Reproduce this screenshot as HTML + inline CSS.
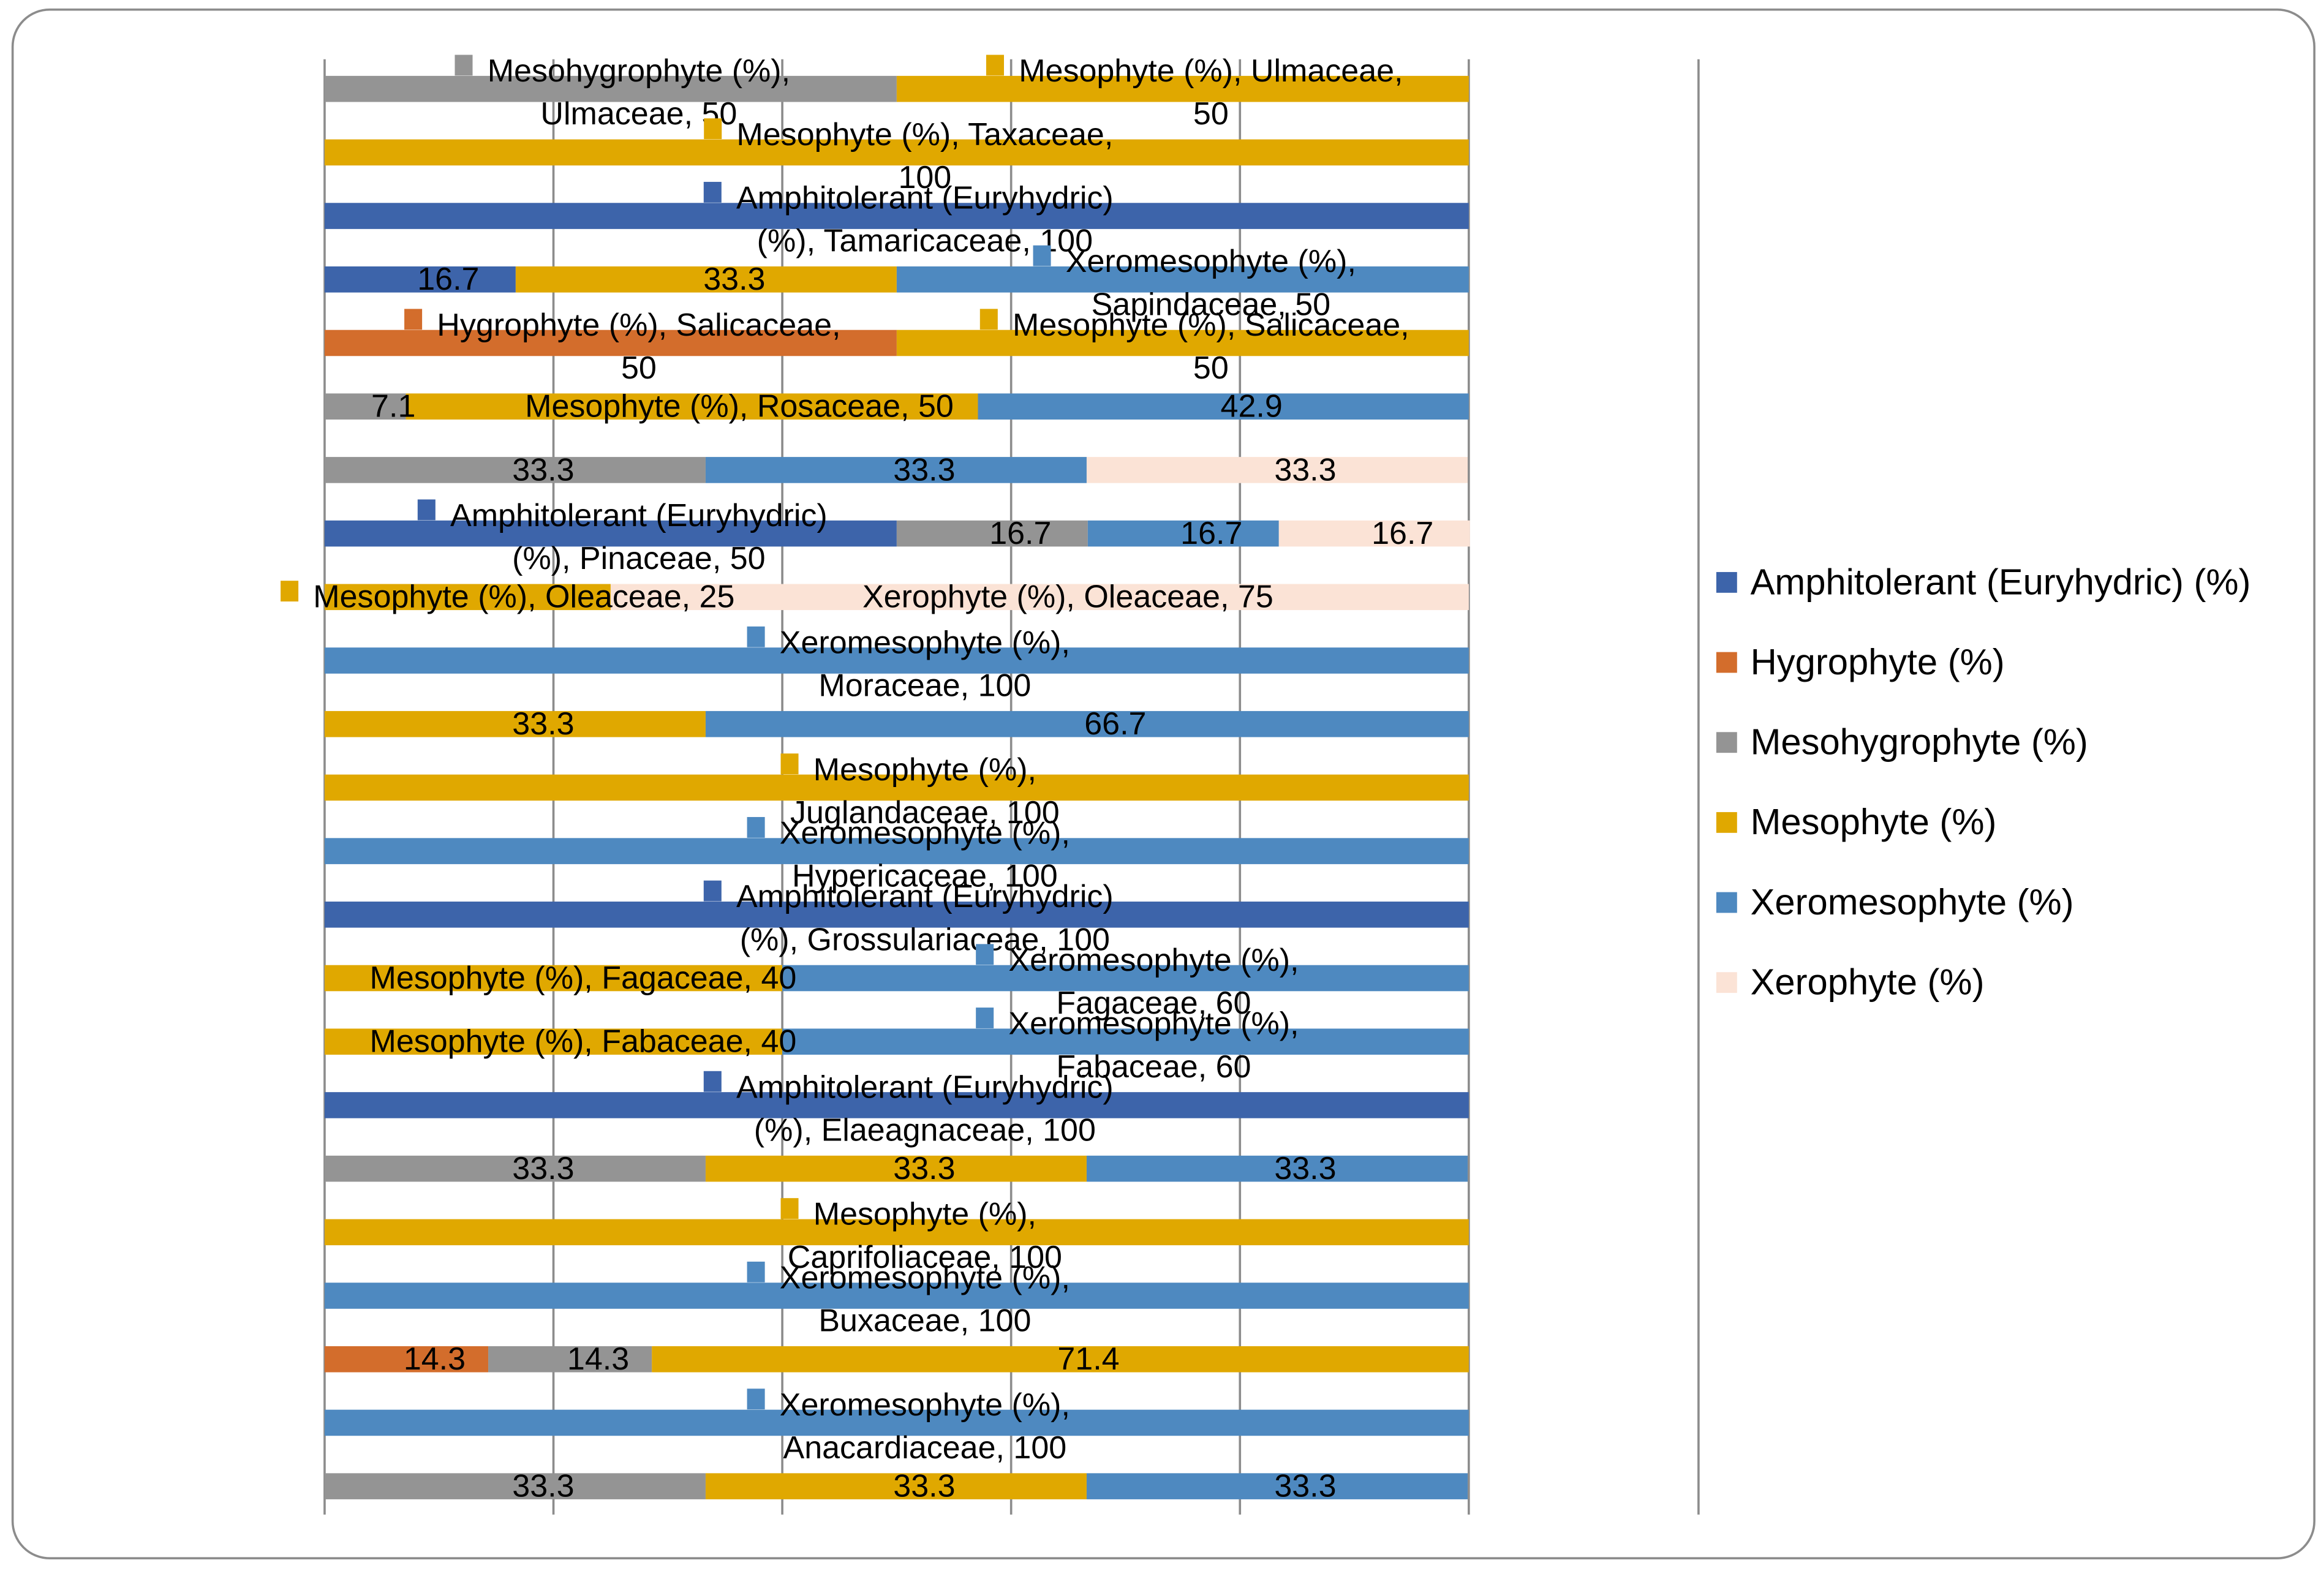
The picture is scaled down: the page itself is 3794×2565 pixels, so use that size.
<!DOCTYPE html>
<html><head><meta charset="utf-8"><style>
html,body{margin:0;padding:0;background:#fff}
svg{display:block}
text{font-family:"Liberation Sans",sans-serif;fill:#000}
</style></head><body>
<svg id="chart" width="3794" height="2565" viewBox="0 0 1568 1060.1" xmlns="http://www.w3.org/2000/svg">
<rect x="8.5" y="6.5" width="1553" height="1045" rx="25" fill="#fff" stroke="#8c8c8c" stroke-width="1.5"/>
<g id="grid"></g><g id="bars"></g><g id="labels"></g><g id="legend"></g>
</svg>
<script>
const categories=["Ulmaceae","Taxaceae","Tamaricaceae","Sapindaceae","Salicaceae","Rosaceae","Rhamnaceae","Pinaceae","Oleaceae","Moraceae","Malvaceae","Juglandaceae","Hypericaceae","Grossulariaceae","Fagaceae","Fabaceae","Elaeagnaceae","Cupressaceae","Caprifoliaceae","Buxaceae","Betulaceae","Anacardiaceae","Aceraceae"];
const seriesNames=["Amphitolerant (Euryhydric) (%)","Hygrophyte (%)","Mesohygrophyte (%)","Mesophyte (%)","Xeromesophyte (%)","Xerophyte (%)"];
const seriesColors=["#3d64aa","#d36d2c","#949494","#e0a800","#4e89c0","#fbe3d6"];
const amphi=[0,0,100,16.7,0,0,0,50,0,0,0,0,0,100,0,0,100,0,0,0,0,0,0];
const hygro=[0,0,0,0,50,0,0,0,0,0,0,0,0,0,0,0,0,0,0,0,14.3,0,0];
const mesohygro=[50,0,0,0,0,7.1,33.3,16.7,0,0,0,0,0,0,0,0,0,33.3,0,0,14.3,0,33.3];
const meso=[50,100,0,33.3,50,50,0,0,25,0,33.3,100,0,0,40,40,0,33.3,100,0,71.4,0,33.3];
const xeromeso=[0,0,0,50,0,42.9,33.3,16.7,0,100,66.7,0,100,0,60,60,0,33.3,0,100,0,100,33.3];
const xero=[0,0,0,0,0,0,33.3,16.7,75,0,0,0,0,0,0,0,0,0,0,0,0,0,0];
const xTicks=[0,20,40,60,80,100];
const callouts={
"2,0":[["Mesohygrophyte (%),","Ulmaceae, 50"],19,1],
"3,0":[["Mesophyte (%), Ulmaceae,","50"],19,1],
"3,1":[["Mesophyte (%), Taxaceae,","100"],19,1],
"0,2":[["Amphitolerant (Euryhydric)","(%), Tamaricaceae, 100"],19,1],
"4,3":[["Xeromesophyte (%),","Sapindaceae, 50"],19,1],
"1,4":[["Hygrophyte (%), Salicaceae,","50"],19,1],
"3,4":[["Mesophyte (%), Salicaceae,","50"],19,1],
"3,5":[["Mesophyte (%), Rosaceae, 50"],32,0],
"0,7":[["Amphitolerant (Euryhydric)","(%), Pinaceae, 50"],19,1],
"3,8":[["Mesophyte (%), Oleaceae, 25"],38,1],
"5,8":[["Xerophyte (%), Oleaceae, 75"],19,0],
"4,9":[["Xeromesophyte (%),","Moraceae, 100"],19,1],
"3,11":[["Mesophyte (%),","Juglandaceae, 100"],19,1],
"4,12":[["Xeromesophyte (%),","Hypericaceae, 100"],19,1],
"0,13":[["Amphitolerant (Euryhydric)","(%), Grossulariaceae, 100"],19,1],
"3,14":[["Mesophyte (%), Fagaceae, 40"],20,0],
"4,14":[["Xeromesophyte (%),","Fagaceae, 60"],19,1],
"3,15":[["Mesophyte (%), Fabaceae, 40"],20,0],
"4,15":[["Xeromesophyte (%),","Fabaceae, 60"],19,1],
"0,16":[["Amphitolerant (Euryhydric)","(%), Elaeagnaceae, 100"],19,1],
"3,18":[["Mesophyte (%),","Caprifoliaceae, 100"],19,1],
"4,19":[["Xeromesophyte (%),","Buxaceae, 100"],19,1],
"4,21":[["Xeromesophyte (%),","Anacardiaceae, 100"],19,1]
};
const series=[amphi,hygro,mesohygro,meso,xeromeso,xero];
const NS="http://www.w3.org/2000/svg";
const X0=219,X1=991,Y0=60,STEP=42.86,BH=17.6,FS=21.5;
const xs=v=>X0+v/100*(X1-X0);
const ys=i=>Y0+i*STEP;
function mk(tag,attrs,parent){const e=document.createElementNS(NS,tag);for(const k in attrs)e.setAttribute(k,attrs[k]);parent.appendChild(e);return e;}
const grid=document.getElementById('grid'),bars=document.getElementById('bars'),labels=document.getElementById('labels'),legend=document.getElementById('legend');
xTicks.forEach(t=>{const l=mk('line',{x1:xs(t),x2:xs(t),y1:40,y2:1022,stroke:'#8c8c8c','stroke-width':1.5},grid);

});
const sep=mk('line',{x1:1146,x2:1146,y1:40,y2:1022,stroke:'#8c8c8c','stroke-width':1.5},grid);


const pending=[];
categories.forEach((c,i)=>{let acc=0;const y=ys(i);
series.forEach((arr,s)=>{const v=arr[i];if(!v)return;const xa=xs(acc),xb=xs(acc+v);acc+=v;
const r=mk('rect',{x:xa,y:y-BH/2,width:xb-xa,height:BH,fill:seriesColors[s]},bars);


pending.push({s,i,v,cx:(xa+xb)/2,y,c});});});
pending.forEach(p=>{const key=p.s+','+p.i;const co=callouts[key];
if(!co){const t=mk('text',{x:p.cx+19,y:p.y+7,'text-anchor':'middle','font-size':FS},labels);t.textContent=String(p.v);

return;}
const [lines,dx,key2]=co;const cx=p.cx+dx;
const ycs=lines.length===1?[p.y]:[p.y-12,p.y+17];
let first=null;
lines.forEach((ln,k)=>{const t=mk('text',{x:cx,y:ycs[k]+7,'text-anchor':'middle','font-size':FS},labels);t.textContent=ln;

if(k===0)first=t;});
if(key2){const w=first.getComputedTextLength();const sq=mk('rect',{x:cx-w/2-22,y:ycs[0]-11,width:12,height:14,fill:seriesColors[p.s]},labels);

}
});
seriesNames.forEach((n,k)=>{const y=393+k*54;
const g=mk('g',{},legend);


mk('rect',{x:1158,y:y-7,width:14,height:14,fill:seriesColors[k]},g);
const t=mk('text',{x:1181,y:y+8,'font-size':24.7},g);t.textContent=n;});
</script>
</body></html>
